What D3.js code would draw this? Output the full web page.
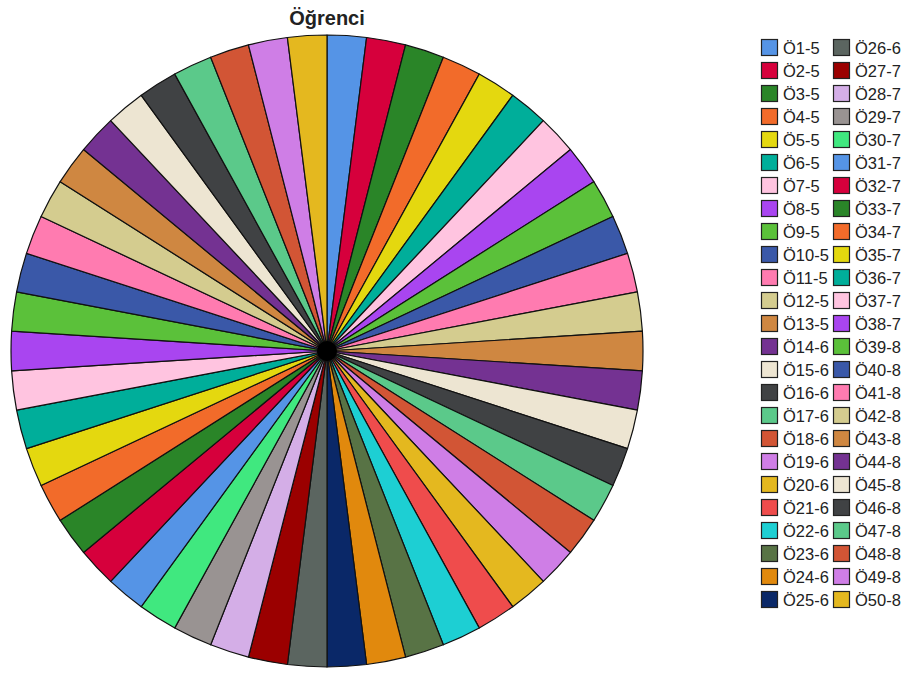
<!DOCTYPE html>
<html>
<head>
<meta charset="utf-8">
<script src="https://cdn.jsdelivr.net/npm/d3@7"></script>
<style>
  body { margin: 0; background: #fff; }
  svg { display: block; font-family: "Liberation Sans", Arial, sans-serif; }
</style>
</head>
<body>
<svg id="chart" width="907" height="674"></svg>
<script>
// students (category labels) in slice order
const students = [
  "Ö1-5", "Ö2-5", "Ö3-5", "Ö4-5", "Ö5-5", "Ö6-5", "Ö7-5", "Ö8-5", "Ö9-5", "Ö10-5",
  "Ö11-5", "Ö12-5", "Ö13-5", "Ö14-6", "Ö15-6", "Ö16-6", "Ö17-6", "Ö18-6", "Ö19-6", "Ö20-6",
  "Ö21-6", "Ö22-6", "Ö23-6", "Ö24-6", "Ö25-6", "Ö26-6", "Ö27-7", "Ö28-7", "Ö29-7", "Ö30-7",
  "Ö31-7", "Ö32-7", "Ö33-7", "Ö34-7", "Ö35-7", "Ö36-7", "Ö37-7", "Ö38-7", "Ö39-8", "Ö40-8",
  "Ö41-8", "Ö42-8", "Ö43-8", "Ö44-8", "Ö45-8", "Ö46-8", "Ö47-8", "Ö48-8", "Ö49-8", "Ö50-8"
];
// every slice is the same size (one student each)
const counts = [
  1, 1, 1, 1, 1, 1, 1, 1, 1, 1,
  1, 1, 1, 1, 1, 1, 1, 1, 1, 1,
  1, 1, 1, 1, 1, 1, 1, 1, 1, 1,
  1, 1, 1, 1, 1, 1, 1, 1, 1, 1,
  1, 1, 1, 1, 1, 1, 1, 1, 1, 1
];
// palette (30 colours, repeats after that)
const palette = [
  "#5594e6", "#d6003c", "#2a8528", "#f26b2a", "#e4d80f", "#00ae9a", "#ffc4e0", "#a945f0",
  "#5bc13a", "#3a58a8", "#ff7bb0", "#d4cc8f", "#cf8741", "#743292", "#ede5d2", "#404244",
  "#5bc98a", "#d25535", "#cf7ee6", "#e4b81f", "#ef4c4c", "#1dcfd3", "#587345", "#e1890d",
  "#0a2868", "#5b6560", "#9b0000", "#d4aee7", "#999392", "#40e87f"
];

const data = students.map((name, i) => ({ name, value: counts[i] }));

const svg = d3.select("#chart");
const cx = 327, cy = 351, radius = 316;

const color = d3.scaleOrdinal().domain(students).range(palette);

// title
svg.append("text")
  .attr("x", cx)
  .attr("y", 25)
  .attr("text-anchor", "middle")
  .style("font-size", "20px")
  .style("font-weight", "bold")
  .attr("fill", "#222")
  .text("Öğrenci");

const pie = d3.pie().value(d => d.value).sort(null);
const arc = d3.arc().innerRadius(0).outerRadius(radius);

const g = svg.append("g")
  .attr("transform", `translate(${cx},${cy})`);

g.selectAll("path")
  .data(pie(data))
  .join("path")
  .attr("d", arc)
  .attr("fill", d => color(d.data.name))
  .attr("stroke", "#111")
  .attr("stroke-width", 1.2)
  .attr("stroke-linejoin", "round");

// the edges all meet in the middle and merge into a dark spot
g.append("circle")
  .attr("r", 10)
  .attr("fill", "#000");

// legend: two columns of 25
const perCol = 25;
const legend = svg.append("g").attr("class", "legend");
const items = legend.selectAll("g")
  .data(students)
  .join("g")
  .attr("transform", (d, i) => {
    const col = Math.floor(i / perCol), row = i % perCol;
    return `translate(${761 + col * 72},${39 + row * 23})`;
  });

items.append("rect")
  .attr("x", 0.5)
  .attr("y", 0.5)
  .attr("width", 16)
  .attr("height", 16)
  .attr("fill", d => color(d))
  .attr("stroke", "#222")
  .attr("stroke-width", 1.2);

items.append("text")
  .attr("x", 22)
  .attr("y", 14.5)
  .style("font-size", "16.5px")
  .attr("fill", "#222")
  .text(d => d);
</script>
</body>
</html>
